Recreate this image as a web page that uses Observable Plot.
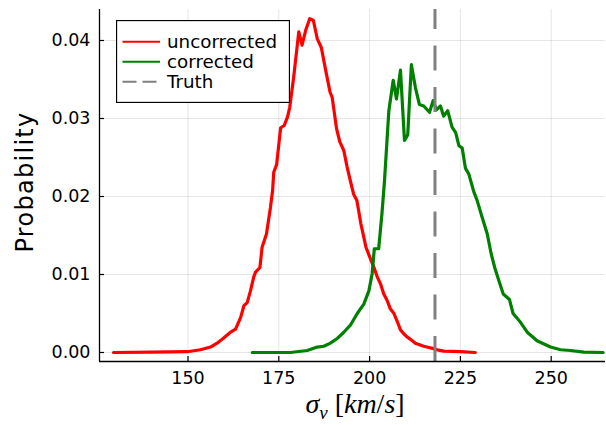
<!DOCTYPE html>
<html>
<head>
<meta charset="utf-8">
<script src="https://cdn.jsdelivr.net/npm/d3@7"></script>
<script src="https://cdn.jsdelivr.net/npm/@observablehq/plot@0.6"></script>
<style>
  body { margin: 0; background: white; }
  #wrap { position: relative; width: 606px; height: 425px; font-family: "DejaVu Sans", sans-serif; }
  #ylab { position: absolute; left: 25px; top: 182px; transform: translate(-50%, -50%) rotate(-90deg); font-size: 24px; letter-spacing: 1.3px; white-space: nowrap; }
  #xlab { position: absolute; left: 355px; top: 406px; transform: translate(-50%, -50%); font-family: "Liberation Serif", serif; font-size: 28px; white-space: nowrap; }
  #xlab i { font-style: italic; }
  #legend { position: absolute; left: 116px; top: 20px; }
</style>
</head>
<body>
<div id="wrap">
  <div id="chart"></div>
  <div id="ylab">Probability</div>
  <div id="xlab"><i>σ</i><sub style="font-size:19px;vertical-align:-6px"><i>v</i></sub> [<i>km</i>/<i>s</i>]</div>
  <div id="legend"></div>
</div>
<script>
// ---- data ----
const uncorrectedX = [129.5, 140, 149.8, 153.4, 156.2, 158, 159.9, 161.7, 163.1, 164.5, 165.4, 166.3, 167.2, 168.1, 168.6, 169.8, 170.4, 171.6, 172.7, 173.3, 173.6, 174.4, 175.5, 176.5, 177.4, 178, 179.1, 180.5, 181.4, 182.4, 183.5, 184.5, 185.6, 186.7, 187.9, 189.1, 189.7, 190.9, 191.8, 192.9, 193.8, 194.6, 195.6, 196.5, 197.6, 199, 200.4, 201.2, 202.1, 203, 203.9, 204.8, 205.7, 206.7, 207.6, 208.5, 209.4, 210.3, 211.5, 212.6, 214.9, 217.6, 219, 220.4, 225, 229.1];
const uncorrectedY = [0, 0.00005, 0.0001, 0.00035, 0.0007, 0.0012, 0.0019, 0.0026, 0.003, 0.0045, 0.006, 0.0064, 0.0079, 0.0097, 0.0103, 0.0109, 0.0135, 0.0152, 0.0186, 0.0208, 0.0231, 0.0241, 0.0288, 0.0291, 0.0302, 0.0314, 0.0353, 0.0411, 0.0394, 0.0413, 0.0428, 0.0426, 0.0402, 0.0391, 0.0362, 0.0334, 0.0327, 0.0287, 0.027, 0.0259, 0.0238, 0.0222, 0.0203, 0.0195, 0.0165, 0.0135, 0.0118, 0.0109, 0.0097, 0.0088, 0.0075, 0.0067, 0.0056, 0.005, 0.004, 0.0029, 0.0024, 0.002, 0.0016, 0.0012, 0.0008, 0.0005, 0.0003, 0.00017, 0.0001, 0];

const correctedX = [167.7, 178.2, 182.8, 185.6, 187.4, 189.2, 191.1, 192.9, 194.7, 196.6, 198.4, 199.8, 200.7, 201.3, 202.5, 203.4, 204.1, 205.3, 206.5, 207.4, 208.5, 209.6, 210.5, 211.5, 212.6, 213.7, 214.9, 216.5, 217.5, 218.4, 219.5, 220.4, 221.5, 222.7, 223.7, 224.6, 225.5, 226.4, 227.3, 228.7, 229.6, 231, 232.4, 233.5, 234.5, 235.6, 236.8, 238.5, 239.5, 241.5, 243.4, 246.1, 249.8, 252.6, 255.3, 259, 264.3];
const correctedY = [0, 0, 0.00026, 0.0007, 0.0008, 0.0012, 0.0018, 0.0026, 0.0035, 0.005, 0.0062, 0.0079, 0.0101, 0.0133, 0.0133, 0.0178, 0.022, 0.031, 0.0349, 0.0325, 0.0362, 0.0272, 0.0279, 0.0369, 0.034, 0.0318, 0.0316, 0.0308, 0.0323, 0.0311, 0.0316, 0.0303, 0.031, 0.0289, 0.0282, 0.0265, 0.0262, 0.0236, 0.0229, 0.0206, 0.0195, 0.0173, 0.0152, 0.0126, 0.0108, 0.0092, 0.0075, 0.0068, 0.005, 0.0039, 0.0026, 0.0015, 0.0007, 0.00035, 0.00026, 0.00005, 0];

const truthValue = [218];
const xTicks = [150, 175, 200, 225, 250];
const yTicks = [0, 0.01, 0.02, 0.03, 0.04];
const xDomain = [125.63, 264.95];
const yDomain = [-0.001154, 0.043974];
const seriesNames = ["uncorrected", "corrected", "Truth"];
const seriesColors = ["#ff0000", "#008000", "#808080"];

const toRows = (xs, ys) => xs.map((x, i) => ({x, y: ys[i]}));
const uncorrected = toRows(uncorrectedX, uncorrectedY);
const corrected = toRows(correctedX, correctedY);

const W = 606, H = 425, mL = 99, mR = 1, mT = 9, mB = 64;
const frameW = W - mL - mR, frameH = H - mT - mB;

const chart = Plot.plot({
  width: W, height: H,
  marginLeft: mL, marginRight: mR, marginTop: mT, marginBottom: mB,
  style: {fontFamily: "DejaVu Sans", fontSize: "17px", color: "black", background: "white"},
  x: {domain: xDomain},
  y: {domain: yDomain},
  marks: [
    Plot.gridX(xTicks, {stroke: "#000", strokeOpacity: 0.1, strokeWidth: 1}),
    Plot.gridY(yTicks, {stroke: "#000", strokeOpacity: 0.1, strokeWidth: 1}),
    Plot.axisX(xTicks, {tickSize: 0, tickPadding: 10, label: null, fontSize: 17.5}),
    Plot.axisY(yTicks, {tickSize: 0, tickPadding: 9, label: null, fontSize: 17.5, tickFormat: d3.format(".2f")}),
    Plot.tickX(xTicks, {x: d => d, insetTop: frameH - 5, stroke: "black", strokeWidth: 1.2}),
    Plot.tickY(yTicks, {y: d => d, insetRight: frameW - 5, stroke: "black", strokeWidth: 1.2}),
    Plot.line(uncorrected, {x: "x", y: "y", stroke: seriesColors[0], strokeWidth: 3.2}),
    Plot.line(corrected, {x: "x", y: "y", stroke: seriesColors[1], strokeWidth: 3.2}),
    Plot.ruleX(truthValue, {x: d => d, y1: yDomain[0], y2: yDomain[1], stroke: seriesColors[2], strokeWidth: 3, strokeDasharray: "25,16.5"}),
    Plot.ruleX([xDomain[0]], {stroke: "black", strokeWidth: 1.3}),
    Plot.ruleY([yDomain[0]], {stroke: "black", strokeWidth: 1.3})
  ]
});
document.getElementById("chart").appendChild(chart);

// legend
const lw = 174, lh = 83;
const leg = d3.select("#legend").append("svg").attr("width", lw).attr("height", lh)
  .style("font-family", "DejaVu Sans").style("font-size", "18.3px");
leg.append("rect").attr("x", 0.5).attr("y", 0.5).attr("width", lw - 1).attr("height", lh - 1)
  .attr("fill", "white").attr("stroke", "black").attr("stroke-width", 1.3);
seriesNames.forEach((name, i) => {
  const yy = 21.7 + i * 20;
  leg.append("line").attr("x1", 6.5).attr("x2", 44).attr("y1", yy).attr("y2", yy)
    .attr("stroke", seriesColors[i]).attr("stroke-width", 2)
    .attr("stroke-dasharray", i === 2 ? "14,6" : null);
  leg.append("text").attr("x", 51).attr("y", yy).attr("dy", "0.35em").text(name);
});
</script>
</body>
</html>
